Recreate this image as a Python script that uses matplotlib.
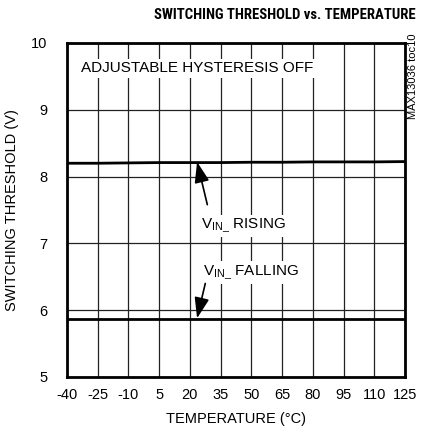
import matplotlib

matplotlib.use("Agg")
import matplotlib.pyplot as plt

plt.rcParams["font.family"] = ["Liberation Sans", "DejaVu Sans"]

# data
temp = [-40, -25, -10, 5, 20, 35, 50, 65, 80, 95, 110, 125]
v_rising = [8.20, 8.20, 8.205, 8.21, 8.21, 8.21, 8.215, 8.215, 8.22, 8.22, 8.22, 8.225]
v_falling = [5.87, 5.87, 5.87, 5.87, 5.87, 5.87, 5.87, 5.87, 5.87, 5.87, 5.87, 5.87]
x_ticks = [-40, -25, -10, 5, 20, 35, 50, 65, 80, 95, 110, 125]
y_ticks = [5, 6, 7, 8, 9, 10]

fig = plt.figure(figsize=(4.22, 4.42), dpi=100)
ax = fig.add_axes([67 / 422, 1 - 377 / 442, 338 / 422, 334 / 442])

ax.plot(temp, v_rising, color="black", lw=2.0, zorder=3)
ax.plot(temp, v_falling, color="black", lw=2.0, zorder=3)

ax.set_xlim(-40, 125)
ax.set_ylim(5, 10)
ax.set_xticks(x_ticks)
ax.set_yticks(y_ticks)
ax.set_xticklabels([str(t) for t in x_ticks], fontsize=10.5)
ax.set_yticklabels([str(t) for t in y_ticks], fontsize=10.5)
ax.tick_params(length=0, pad=8)
ax.tick_params(axis="y", pad=14)
ax.grid(True, color="#222222", lw=0.9)
for s in ax.spines.values():
    s.set_linewidth(2)

ax.set_xlabel("TEMPERATURE (°C)", fontsize=10.5, labelpad=7)
ax.set_ylabel("SWITCHING THRESHOLD (V)", fontsize=10.5, labelpad=9)
fig.text(285 / 422, 1 - 15 / 442, "SWITCHING THRESHOLD vs. TEMPERATURE",
         ha="center", va="center", fontsize=10.6, fontweight="bold",
         fontstretch="condensed",
         family=["Roboto Condensed", "Liberation Sans Narrow", "Open Sans Condensed", "Liberation Sans"])

box = dict(facecolor="white", edgecolor="none", pad=1.5)
ax.text(-33, 9.62, "ADJUSTABLE HYSTERESIS OFF", fontsize=11, va="center",
        bbox=box, zorder=4)
ax.text(25.5, 7.26, r"V$_{\mathregular{IN\_}}$ RISING", fontsize=11,
        va="center", bbox=box, zorder=4)
ax.text(26.5, 6.56, r"V$_{\mathregular{IN\_}}$ FALLING", fontsize=11,
        va="center", bbox=box, zorder=4)

arrow = dict(arrowstyle="-|>,head_length=0.7,head_width=0.25", color="black",
             lw=1.2, mutation_scale=18, shrinkA=0, shrinkB=0)
ax.annotate("", xy=(23.5, 8.22), xytext=(28.5, 7.58), arrowprops=arrow, zorder=5)
ax.annotate("", xy=(23.5, 5.88), xytext=(27.5, 6.40), arrowprops=arrow, zorder=5)

fig.text(413 / 422, 1 - 76 / 442, "MAX13036 toc10", rotation=90,
         ha="center", va="center", fontsize=8)

fig.savefig("out.png", dpi=100)
